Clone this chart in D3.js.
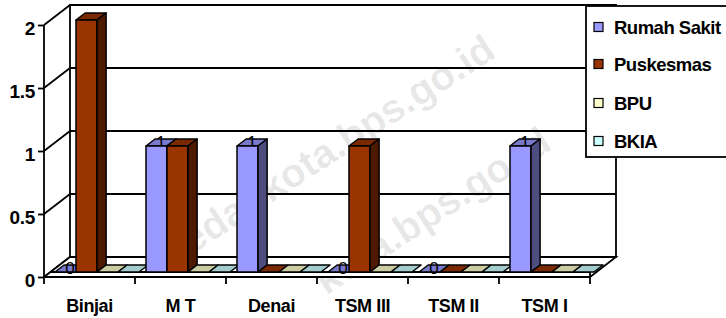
<!DOCTYPE html>
<html><head><meta charset="utf-8">
<script src="https://cdn.jsdelivr.net/npm/d3@7"></script>
<style>html,body{margin:0;padding:0;background:#fff;}svg{display:block;font-family:"Liberation Sans",Arial,sans-serif;}</style>
</head><body>
<svg id="c" width="726" height="318"></svg>
<script>
const categories = ["Binjai", "M T", "Denai", "TSM III", "TSM II", "TSM I"];
const seriesNames = ["Rumah Sakit", "Puskesmas", "BPU", "BKIA"];
const rumahSakit = [0, 1, 1, 0, 0, 1];
const puskesmas = [2, 1, 0, 1, 0, 0];
const bpu = [0, 0, 0, 0, 0, 0];
const bkia = [0, 0, 0, 0, 0, 0];
const yTicks = [0, 0.5, 1, 1.5, 2];
const yTickLabels = ["0", "0.5", "1", "1.5", "2"];
const seriesValues = [rumahSakit, puskesmas, bpu, bkia];
const frontColors = ["#9999FF", "#993300", "#FFFFCC", "#CCFFFF"];
const topColors = ["#7A7ACC", "#7A2900", "#CCCCA3", "#A3CCCC"];
const sideColors = ["#4D4D80", "#4D1A00", "#80806A", "#668080"];

const svg = d3.select("#c");
const DX = 26, DY = 20;
const Z0 = 0.25, Z1 = 0.6;
const x0 = d3.scaleBand().domain(categories).range([44, 590]).padding(0);
const x1 = d3.scaleBand().domain(seriesNames).range([4.5, 88.5]).padding(0);
const y = d3.scaleLinear().domain([0, 2]).range([277, 25]);
const P = (xf, v, z) => [xf + z * DX, y(v) - z * DY];
const poly = pts => "M" + pts.map(p => p.join(",")).join("L") + "Z";

// watermark
const wm = svg.append("g").attr("fill", "#000").attr("fill-opacity", 0.09)
  .attr("font-weight", "bold").attr("font-size", 40).attr("text-anchor", "middle");
wm.append("text").attr("transform", "translate(330,165) rotate(-33)").text("medankota.bps.go.id");
wm.append("text").attr("transform", "translate(440,222) rotate(-33)").text("kota.bps.go.id");

const lw = 1.8;
const g = svg.append("g").attr("stroke", "#000").attr("fill", "none").attr("stroke-width", lw);
const xL = x0.range()[0], xR = x0.range()[1];
// back wall
g.append("path").attr("d", poly([P(xL, 0, 1), P(xR, 0, 1), P(xR, 2, 1), P(xL, 2, 1)]));
// gridlines on back wall + left wall diagonals
yTicks.forEach(t => {
  g.append("line").attr("x1", P(xL, t, 1)[0]).attr("y1", P(xL, t, 1)[1]).attr("x2", P(xR, t, 1)[0]).attr("y2", P(xR, t, 1)[1]);
  g.append("line").attr("x1", P(xL, t, 0)[0]).attr("y1", P(xL, t, 0)[1]).attr("x2", P(xL, t, 1)[0]).attr("y2", P(xL, t, 1)[1]);
});
// floor
g.append("path").attr("d", poly([P(xL, 0, 0), P(xR, 0, 0), P(xR, 0, Z0), P(xR, 0, 1), P(xL, 0, 1)])).attr("fill", "#fff");
const fl = [xL + (DX * Z0), y(0) - DY * Z0];
g.append("line").attr("x1", fl[0]).attr("y1", fl[1]).attr("x2", xR).attr("y2", fl[1]);
g.append("line").attr("x1", xR).attr("y1", y(0)).attr("x2", xR).attr("y2", fl[1]);

// bars
const bars = svg.append("g").attr("stroke", "#000").attr("stroke-width", 1.5).attr("stroke-linejoin", "round");
categories.forEach((c, ci) => {
  seriesNames.forEach((s, si) => {
    const v = seriesValues[si][ci];
    const a = x0(c) + x1(s), b = a + x1.bandwidth();
    const bg = bars.append("g");
    bg.append("path").attr("d", poly([P(a, v, Z0), P(b, v, Z0), P(b, v, Z1), P(a, v, Z1)])).attr("fill", topColors[si]);
    if (si === 0) {
      const cx = (a + b) / 2 + DX * (Z0 + Z1) / 2;
      const cy = y(v) - DY * Z0 + 2;
      bg.append("text").attr("x", cx).attr("y", cy).attr("text-anchor", "middle")
        .attr("stroke", "none").attr("fill", "#000").attr("font-size", 17).text(v);
    }
    if (v > 0) {
      bg.append("path").attr("d", poly([P(a, 0, Z0), P(b, 0, Z0), P(b, v, Z0), P(a, v, Z0)])).attr("fill", frontColors[si]);
      bg.append("path").attr("d", poly([P(b, 0, Z0), P(b, 0, Z1), P(b, v, Z1), P(b, v, Z0)])).attr("fill", sideColors[si]);
    }
  });
});

// y axis
const yAxis = d3.axisLeft(y).tickValues(yTicks).tickFormat((d, i) => yTickLabels[i]).tickSize(6).tickPadding(3);
const ya = svg.append("g").attr("transform", `translate(${xL},0)`).call(yAxis);
ya.select(".domain").remove();
ya.append("line").attr("x1", 0).attr("x2", 0).attr("y1", y(2)).attr("y2", y(0)).attr("stroke", "#000").attr("stroke-width", lw);
ya.selectAll(".tick line").attr("stroke", "#000").attr("stroke-width", lw);
ya.selectAll(".tick text").attr("font-size", 19).attr("font-weight", "bold").attr("fill", "#000")
  .attr("dy", "0.5em").attr("letter-spacing", "-0.3px").attr("font-family", "Liberation Sans, Arial, sans-serif");

// x axis
const xAxis = d3.axisBottom(x0).tickSize(0).tickPadding(22);
const xa = svg.append("g").attr("transform", `translate(0,${y(0)})`).call(xAxis);
xa.select(".domain").remove();
xa.append("line").attr("x1", xL).attr("x2", xR).attr("y1", 0).attr("y2", 0).attr("stroke", "#000").attr("stroke-width", lw);
xa.selectAll(".tick text").attr("font-size", 18).attr("font-weight", "bold").attr("fill", "#000")
  .attr("letter-spacing", "-0.4px").attr("font-family", "Liberation Sans, Arial, sans-serif");
categories.concat([null]).forEach(c => {
  const xx = c === null ? xR : x0(c);
  xa.append("line").attr("x1", xx).attr("x2", xx).attr("y1", 0).attr("y2", 7).attr("stroke", "#000").attr("stroke-width", lw);
});

// legend
const lg = svg.append("g");
lg.append("rect").attr("x", 586).attr("y", 6).attr("width", 145).attr("height", 151)
  .attr("fill", "#fff").attr("stroke", "#000").attr("stroke-width", lw);
const legY = [27, 64, 103, 141];
seriesNames.forEach((s, i) => {
  lg.append("rect").attr("x", 594).attr("y", legY[i] - 4.5).attr("width", 9).attr("height", 9)
    .attr("fill", frontColors[i]).attr("stroke", "#000").attr("stroke-width", 1.2);
  lg.append("text").attr("x", 614).attr("y", legY[i] + 7).attr("font-size", 18.5).attr("font-weight", "bold")
    .attr("letter-spacing", "-0.5px").attr("fill", "#000").text(s);
});
</script>
</body></html>
